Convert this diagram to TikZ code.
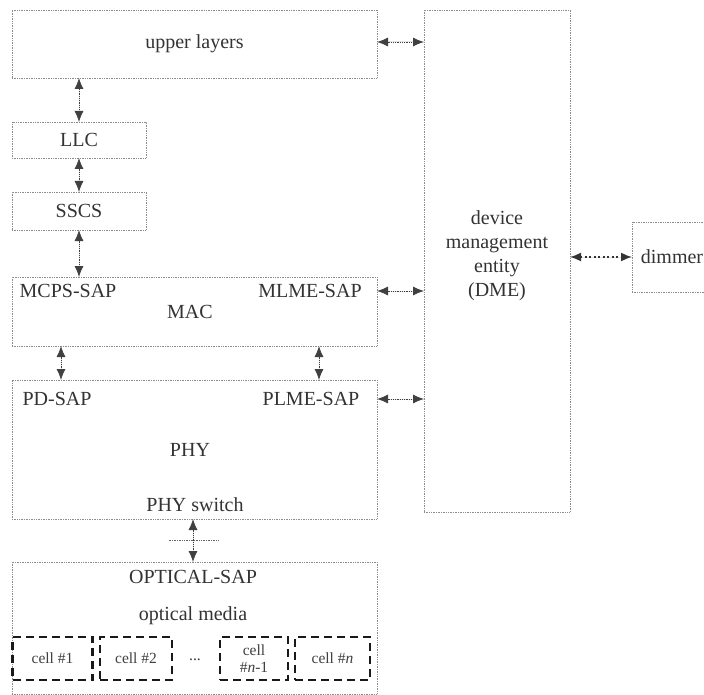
\documentclass[tikz,border=0pt]{standalone}
\usepackage{fontspec}
\setmainfont{Liberation Serif}
\usetikzlibrary{arrows.meta,calc}
\begin{document}
\begin{tikzpicture}[x=1pt,y=-1pt,
  box/.style={draw=black!45, densely dotted, line width=0.7pt, inner sep=0pt, outer sep=0pt, text=black!80},
  lbl/.style={inner sep=0pt, text=black!80, font=\fontsize{20}{24}\selectfont},
  cellbox/.style={draw=black!90, dash pattern=on 8pt off 5pt, line width=2.3pt, inner sep=0pt, outer sep=0pt, text=black!75, font=\fontsize{15.5}{17}\selectfont, align=center},
  arr/.style={{Latex[length=11pt,width=9pt]}-{Latex[length=11pt,width=9pt]}, densely dotted, line width=0.8pt, draw=black!75, fill=black!80},
  darr/.style={{Latex[length=11pt,width=9pt]}-{Latex[length=11pt,width=9pt]}, dash pattern=on 2pt off 2.5pt, line width=1.6pt, draw=black!80, fill=black!80}
]
\useasboundingbox (0,0) rectangle (704,695);
\clip (0,0) rectangle (704,695);
\fill[white] (0,0) rectangle (704,695);
\fontsize{20}{24}\selectfont
% boxes
\node[box, minimum width=365pt, minimum height=68pt, font=\fontsize{20}{24}\selectfont] (up) at (194.5,44) {upper layers};
\node[box, minimum width=146pt, minimum height=502pt] (dme) at (497,261) {};
\node[lbl, align=center] (dmetxt) at (497,256) {device\\management\\entity\\(DME)};
\node[box, minimum width=134pt, minimum height=36pt, font=\fontsize{20}{24}\selectfont] (llc) at (79,140) {LLC};
\node[box, minimum width=134pt, minimum height=38pt, font=\fontsize{20}{24}\selectfont] (sscs) at (79,211) {SSCS};
\node[box, minimum width=365pt, minimum height=69pt] (mac) at (194.5,311.5) {};
\node[lbl] (mcps) at (68,291) {MCPS-SAP};
\node[lbl] (mactxt) at (190,312) {MAC};
\node[lbl] (mlme) at (310,291) {MLME-SAP};
\node[box, minimum width=365pt, minimum height=139pt] (phy) at (194.5,449.5) {};
\node[lbl] (pdsap) at (57,399) {PD-SAP};
\node[lbl] (plme) at (311,399) {PLME-SAP};
\node[lbl] (phytxt) at (190,450) {PHY};
\node[lbl] (physw) at (195,505) {PHY switch};
\node[box, minimum width=365pt, minimum height=132pt] (opt) at (194.5,628) {};
\node[lbl] (optsap) at (193,577) {OPTICAL-SAP};
\node[lbl] (optmed) at (193,616) {optical media};
\node[cellbox, minimum width=80pt, minimum height=43pt] (c1) at (52.5,658.5) {cell \#1};
\node[cellbox, minimum width=72pt, minimum height=43pt] (c2) at (136,658.5) {cell \#2};
\node[lbl, font=\fontsize{15.5}{17}\selectfont] (dots) at (195,660) {...};
\node[cellbox, minimum width=68pt, minimum height=43pt] (cn1) at (254,658.5) {cell\\\#\textit{n}-1};
\node[cellbox, minimum width=75pt, minimum height=43pt] (cn) at (332.5,658.5) {cell \#\textit{n}};
\node[box, minimum width=88pt, minimum height=70pt] (dim) at (676,257) {};
\node[lbl] (dimtxt) at (672,257) {dimmer};
% connectors
\draw[arr] ([yshift=2pt]up.east) -- ([yshift=2pt]up.east -| dme.west);
\draw[arr] (llc.north) -- (llc.north |- up.south);
\draw[arr] (llc.south) -- (sscs.north);
\draw[arr] (sscs.south) -- (sscs.south |- mac.north);
\draw[arr] (mlme.east -| mac.east) -- (mlme.east -| dme.west);
\draw[arr] ([xshift=49pt]mac.south west) -- ([xshift=49pt]phy.north west);
\draw[arr] ([xshift=307pt]mac.south west) -- ([xshift=307pt]phy.north west);
\draw[arr] (plme.east -| phy.east) -- (plme.east -| dme.west);
\draw[arr] ([xshift=-1.5pt]phy.south) -- ([xshift=-1.5pt]opt.north);
\coordinate (mid) at ($(phy.south)!0.5!(opt.north)$);
\draw[densely dotted, line width=0.7pt, draw=black!60] ([xshift=-26pt]mid) -- ([xshift=24pt]mid);
\draw[darr] (dim.west -| dme.east) -- (dim.west);
\end{tikzpicture}
\end{document}
